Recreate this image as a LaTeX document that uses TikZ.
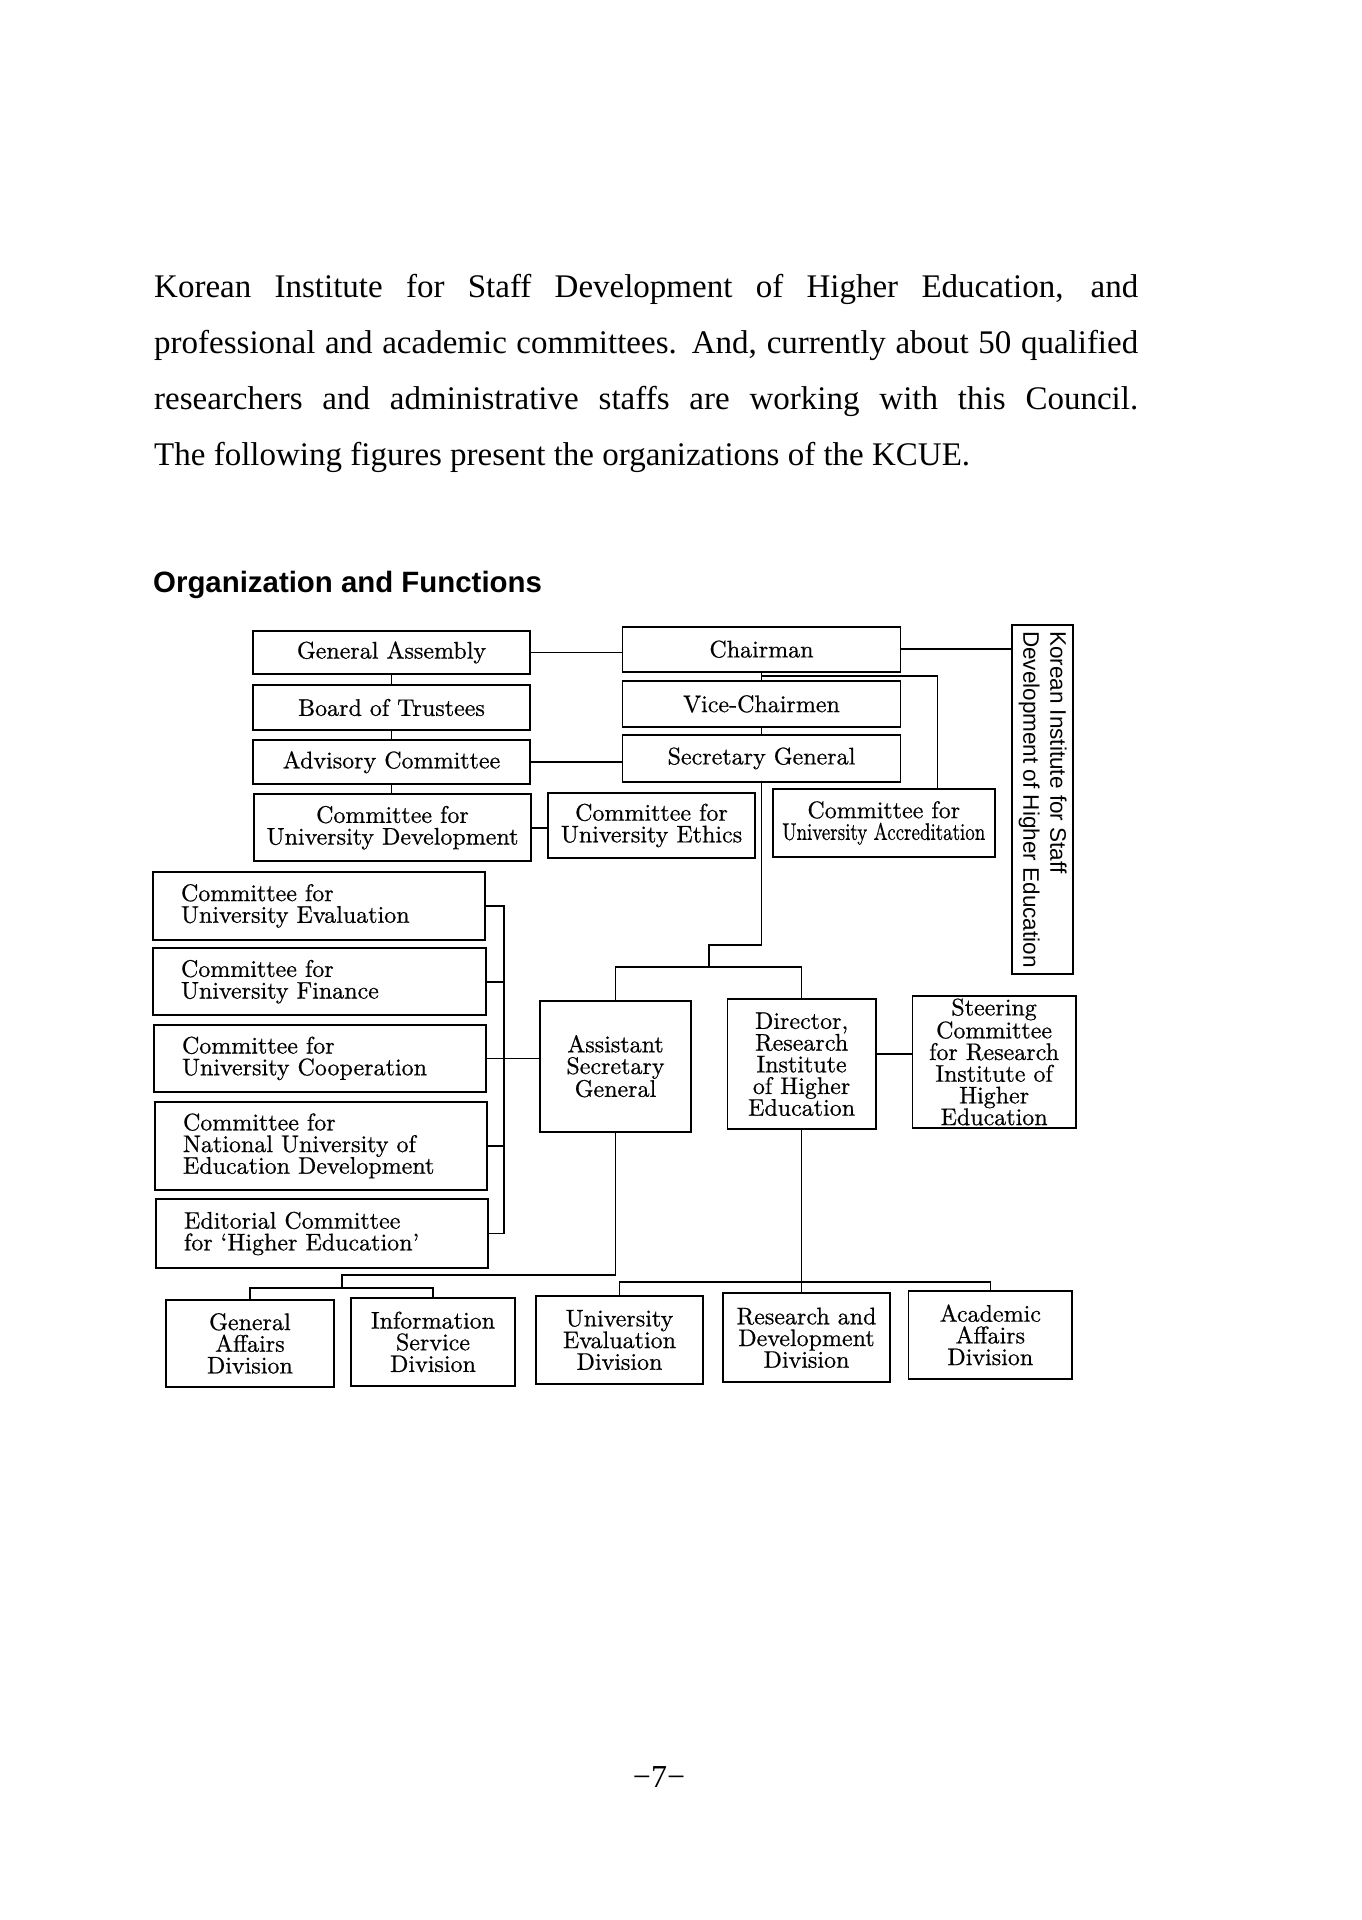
\documentclass[tikz,border=0pt]{standalone}
\usepackage{fontspec}
\usepackage{graphicx}
\newfontfamily\parafont{Liberation Serif}
\newfontfamily\headfont{Liberation Sans}
\newfontfamily\chartfont{lmroman10-regular}[Extension=.otf, FakeBold=0.6, Ligatures=TeX]
\newcommand\parasz{\parafont\fontsize{33}{40}\selectfont}
\newcommand\headsz{\headfont\bfseries\fontsize{29.4}{32}\selectfont}
\newcommand\chartsz{\chartfont\fontsize{24}{21.7}\selectfont}
\newcommand\kisz{\headfont\fontsize{22.5}{27}\selectfont}
\begin{document}
\begin{tikzpicture}[x=1pt,y=-1pt,
  box/.style={draw, line width=1.8pt, inner sep=0pt, align=center, font=\chartsz},
  lbox/.style={box, align=left},
  conn/.style={line width=1.6pt},
  txt/.style={anchor=base west, inner sep=0pt}]
\useasboundingbox (0,0) rectangle (1362,1920);
\fill[white] (0,0) rectangle (1362,1920);

% paragraph
\node[txt, font=\parasz] (p1) at (154,297) {\makebox[984pt][s]{Korean Institute for Staff Development of Higher Education, and}};
\node[txt, font=\parasz] (p2) at (154,353) {\makebox[984pt][s]{professional and academic committees. And, currently about 50 qualified}};
\node[txt, font=\parasz] (p3) at (154,409) {\makebox[984pt][s]{researchers and administrative staffs are working with this Council.}};
\node[txt, font=\parasz] (p4) at (154,465) {The following figures present the organizations of the KCUE.};

% heading
\node[txt, font=\headsz] (head) at (153,592) {Organization and Functions};

% top-left column
\node[box, minimum width=277pt, minimum height=43.3pt] (GA) at (391.5,652.4) {General Assembly};
\node[box, minimum width=277pt, minimum height=45pt] (BoT) at (391.5,707.5) {Board of Trustees};
\node[box, minimum width=277pt, minimum height=44.3pt] (Adv) at (391.5,762.2) {Advisory Committee};
\node[box, minimum width=277pt, minimum height=66.7pt] (CUD) at (392.5,827.7) {Committee for\\University Development};

% center column
\node[box, minimum width=278pt, minimum height=45pt] (Chair) at (761.5,649.2) {Chairman};
\node[box, minimum width=278pt, minimum height=45.7pt] (VC) at (761.5,703.9) {Vice-Chairmen};
\node[box, minimum width=278pt, minimum height=46.7pt] (SG) at (761.5,758.4) {Secretary General};
\node[box, minimum width=207pt, minimum height=65.6pt] (Eth) at (651.5,825.5) {Committee for\\University Ethics};
\node[box, minimum width=221.6pt, minimum height=67.4pt] (Acc) at (883.8,823) {Committee for\\\scalebox{0.79}[1]{University Accreditation}};

% Korean Institute (vertical)
\node[box, minimum width=61.3pt, minimum height=348.7pt, font=\kisz] (KI) at (1042.3,799.4)
  {\rotatebox{-90}{\begin{tabular}{@{}l@{}}Korean Institute for Staff\\Development of Higher Education\end{tabular}}};

% left committees
\node[lbox, minimum width=331.6pt, minimum height=68.3pt, text width=275.6pt] (UE) at (318.8,905.9) {Committee for\\University Evaluation};
\node[lbox, minimum width=333pt, minimum height=66.7pt, text width=277pt] (Fin) at (319.5,981.7) {Committee for\\University Finance};
\node[lbox, minimum width=332pt, minimum height=66.7pt, text width=276pt] (Coop) at (320,1058.4) {Committee for\\University Cooperation};
\node[lbox, minimum width=332pt, minimum height=88.3pt, text width=276pt] (Nat) at (321,1145.9) {Committee for\\National University of\\Education Development};
\node[lbox, minimum width=332pt, minimum height=68.4pt, text width=276pt] (Ed) at (322,1233.5) {Editorial Committee\\for ‘Higher Education’};

% middle row
\node[box, minimum width=151pt, minimum height=131pt] (ASG) at (615.5,1066.2) {Assistant\\Secretary\\General};
\node[box, minimum width=148.2pt, minimum height=130.3pt] (Dir) at (801.6,1064.2) {Director,\\Research\\Institute\\of Higher\\Education};
\node[box, minimum width=163.2pt, minimum height=131.7pt] (Steer) at (994.1,1061.9) {Steering\\Committee\\for Research\\Institute of\\Higher\\Education};

% bottom divisions
\node[box, minimum width=168.3pt, minimum height=86.7pt] (GAD) at (249.9,1343.4) {General\\Affairs\\Division};
\node[box, minimum width=164pt, minimum height=88.3pt] (ISD) at (433,1341.9) {Information\\Service\\Division};
\node[box, minimum width=167pt, minimum height=88.6pt] (UED) at (619.5,1340) {University\\Evaluation\\Division};
\node[box, minimum width=167pt, minimum height=89pt] (RDD) at (806.5,1337.8) {Research and\\Development\\Division};
\node[box, minimum width=163.5pt, minimum height=88.3pt] (AAD) at (990.3,1334.9) {Academic\\Affairs\\Division};

% page number
\node[anchor=base, inner sep=0pt, font=\parafont\fontsize{32}{34}\selectfont] (pg) at (659,1787) {−7−};

% connectors: top-left column
\draw[conn] (GA.south) -- (GA.south |- BoT.north);
\draw[conn] (BoT.south) -- (BoT.south |- Adv.north);
\draw[conn] (Adv.south) -- (Adv.south |- CUD.north);
\draw[conn] (GA.east) -- (GA.east -| Chair.west);
\draw[conn] (Adv.east) -- (Adv.east -| SG.west);
\draw[conn] (CUD.east) -- (CUD.east -| Eth.west);
\draw[conn] (Chair.east) -- (Chair.east -| KI.west);

% center spine
\draw[conn] (Chair.south) -- (VC.north);
\draw[conn] (VC.south) -- (SG.north);
\coordinate (acc) at (937.5,676);
\draw[conn] (Chair.south |- acc) -- (acc) -- (acc |- Acc.north);
\coordinate (sj) at (765,945);
\coordinate (bj) at (709,967);
\draw[conn] (SG.south) -- (SG.south |- sj) -- (bj |- sj) -- (bj);
\draw[conn] (ASG.north) |- (bj) -| (Dir.north);

% left bracket
\coordinate (br) at (504,0);
\draw[conn] (UE.east) -- (UE.east -| br) -- (Ed.east -| br) -- (Ed.east);
\draw[conn] (Fin.east) -- (Fin.east -| br);
\draw[conn] (Nat.east) -- (Nat.east -| br);
\draw[conn] (Coop.east) -- (Coop.east -| ASG.west);

% director to steering
\coordinate (ds) at (0,1054);
\draw[conn] (Dir.east |- ds) -- (Steer.west |- ds);

% ASG to divisions
\coordinate (a1) at (342,1275);
\coordinate (a2) at (342,1288);
\draw[conn] (ASG.south) -- (ASG.south |- a1) -- (a1) -- (a2);
\draw[conn] (GAD.north) |- (a2) -| (ISD.north);

% Director to divisions
\draw[conn] (Dir.south) -- (Dir.south |- RDD.north);
\coordinate (m) at (0,1282);
\draw[conn] (UED.north) -- (UED.north |- m) -- (AAD.north |- m) -- (AAD.north);
\end{tikzpicture}
\end{document}
